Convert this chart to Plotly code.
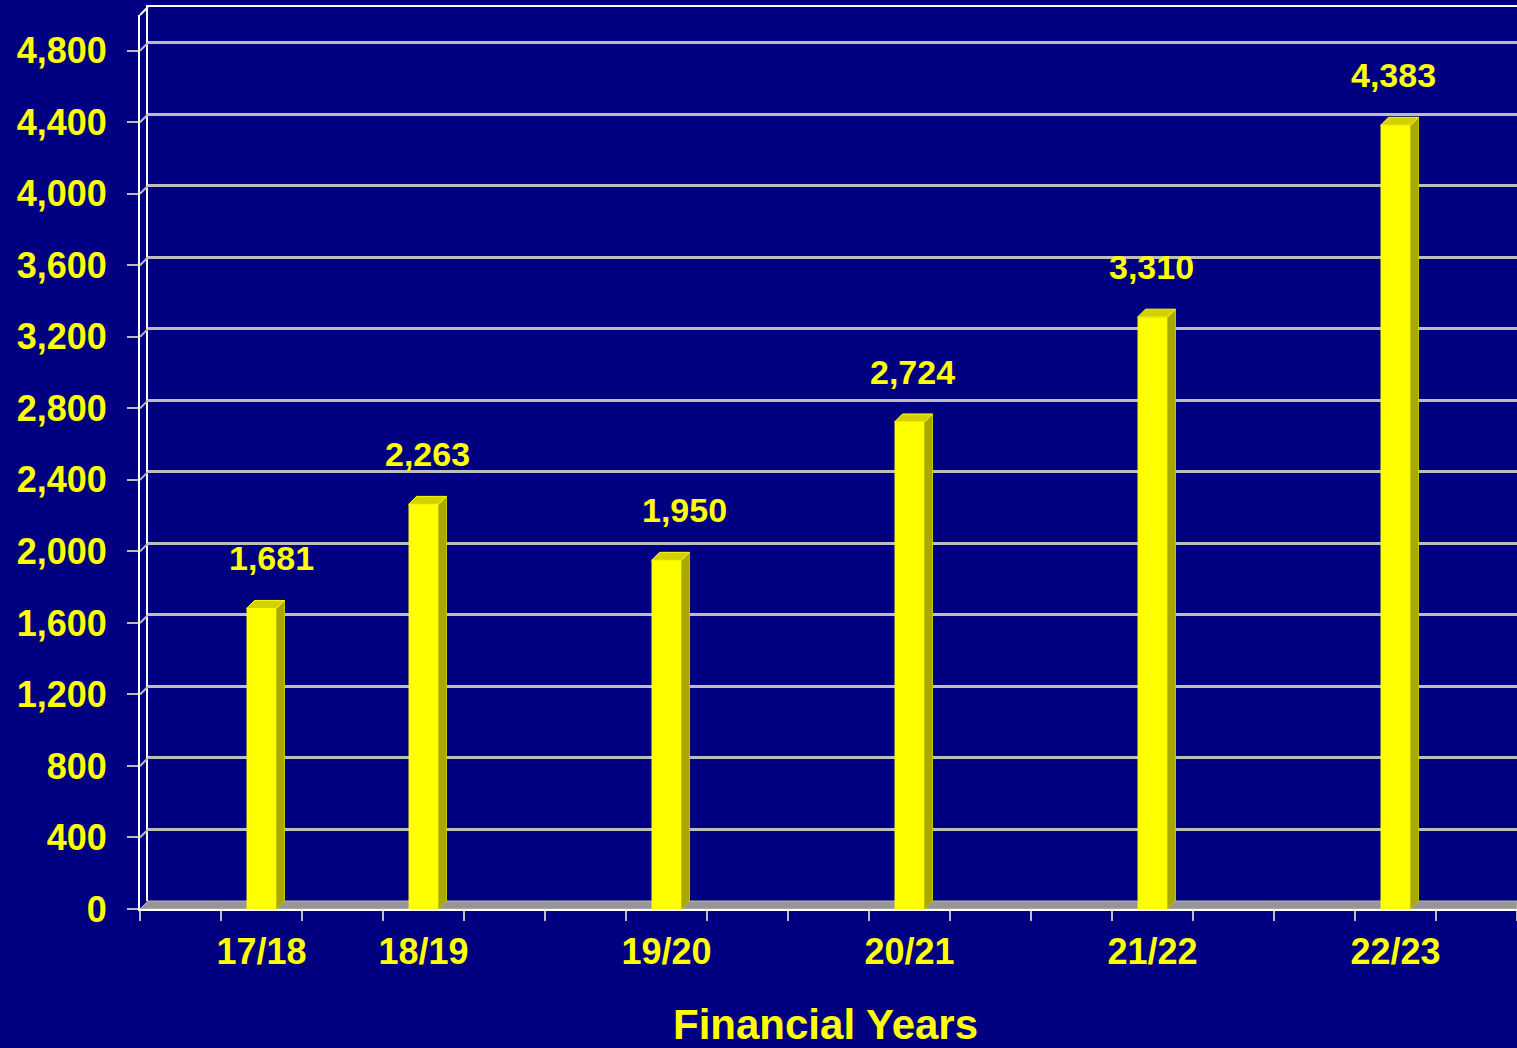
import plotly.graph_objects as go

# ---- data ----
categories = ["17/18", "18/19", "19/20", "20/21", "21/22", "22/23"]
values = [1681, 2263, 1950, 2724, 3310, 4383]
y_ticks = [0, 400, 800, 1200, 1600, 2000, 2400, 2800, 3200, 3600, 4000, 4400, 4800]
x_title = "Financial Years"

# ---- layout / style constants ----
W, H = 1517, 1048
SLOTS = 17                      # category slots along the floor
slot_pos = [1.5, 3.5, 6.5, 9.5, 12.5, 15.5]   # slot centres of the categories
label_nudge_px = [10, 4, 18, 3, -1, -2]
YMAX = 5000
front_left, back_left = 140, 148
front_zero, back_zero = 909, 901
plot_h = 894                    # px for YMAX
DEPTH = 8                       # px
BAR_W = 0.37

NAVY = "#000080"
YEL = "#FFFF00"
GRID = "#BDBDBD"
FONT = "Liberation Sans, Arial, sans-serif"

px_per_slot = (W - front_left) / SLOTS
px_per_unit = plot_h / YMAX
dx = DEPTH / px_per_slot
dy = DEPTH / px_per_unit

fig = go.Figure()

# empty trace so that the back-wall subplot (gridlines) is drawn
fig.add_trace(go.Scatter(x=[None], y=[None], xaxis="x", yaxis="y",
                         hoverinfo="skip", showlegend=False))

# front face of bars
fig.add_trace(go.Bar(
    x=slot_pos, y=values, width=BAR_W,
    marker=dict(color=YEL, line=dict(width=0)),
    xaxis="x2", yaxis="y2", hoverinfo="skip", showlegend=False,
))

# side & top faces (3D look), computed from the values
side_x, side_y, top_x, top_y = [], [], [], []
for c, v in zip(slot_pos, values):
    xl, xr = c - BAR_W / 2, c + BAR_W / 2
    side_x += [xr, xr + dx, xr + dx, xr, xr, None]
    side_y += [0, dy, v + dy, v, 0, None]
    top_x += [xl, xl + dx, xr + dx, xr, xl, None]
    top_y += [v, v + dy, v + dy, v, v, None]

fig.add_trace(go.Scatter(
    x=side_x, y=side_y, mode="lines", fill="toself",
    fillcolor="#A8A800", line=dict(color="#C4C400", width=1),
    xaxis="x2", yaxis="y2", hoverinfo="skip", showlegend=False,
))
fig.add_trace(go.Scatter(
    x=top_x, y=top_y, mode="lines", fill="toself",
    fillcolor="#D2D200", line=dict(color=YEL, width=1),
    xaxis="x2", yaxis="y2", hoverinfo="skip", showlegend=False,
))

# data labels
annotations = []
for c, v, n in zip(slot_pos, values, label_nudge_px):
    annotations.append(dict(
        x=c, y=v, xref="x2", yref="y2", text=f"{v:,}", showarrow=False,
        xshift=n, yshift=50, yanchor="middle", xanchor="center",
        font=dict(family=FONT, size=34, color=YEL, weight="bold"),
    ))
annotations.append(dict(
    x=825 / W, y=(H - 1024) / H, xref="paper", yref="paper", text=x_title,
    showarrow=False, xanchor="center", yanchor="middle",
    font=dict(family=FONT, size=42, color=YEL, weight="bold"),
))

def fy(v):   # front-plane paper y
    return ((H - front_zero) + v * px_per_unit) / H

def by(v):   # back-wall paper y
    return ((H - back_zero) + v * px_per_unit) / H

shapes = []
# floor (grey band)
shapes.append(dict(
    type="path", xref="x2", yref="y2", layer="between",
    path=f"M 0 0 L {dx} {dy} L {SLOTS} {dy} L {SLOTS} 0 Z",
    fillcolor="#969696", line=dict(color="#B8B8B8", width=1),
))
# gridline connectors on the left side wall
for v in y_ticks[1:]:
    shapes.append(dict(
        type="line", xref="paper", yref="paper",
        x0=front_left / W, y0=fy(v), x1=back_left / W, y1=by(v),
        line=dict(color=GRID, width=2),
    ))
# top diagonal of the side wall
shapes.append(dict(
    type="line", xref="paper", yref="paper",
    x0=front_left / W, y0=fy(YMAX), x1=back_left / W, y1=by(YMAX),
    line=dict(color="white", width=2),
))

tickfont = dict(family=FONT, size=36, color=YEL, weight="bold")

fig.update_layout(
    width=W, height=H, autosize=False,
    margin=dict(l=0, r=0, t=0, b=0, pad=0, autoexpand=False),
    paper_bgcolor=NAVY, plot_bgcolor="rgba(0,0,0,0)",
    showlegend=False,
    shapes=shapes, annotations=annotations,
    # back wall (gridlines)
    xaxis=dict(domain=[back_left / W, 1], range=[0, 1], anchor="y", side="top",
               showline=True, linecolor="white", linewidth=2, automargin=False,
               showgrid=False, zeroline=False, showticklabels=False, ticks=""),
    yaxis=dict(domain=[by(0), by(YMAX)], range=[0, YMAX], anchor="x",
               tickvals=y_ticks[1:], showgrid=True, gridcolor=GRID, gridwidth=3,
               showline=True, linecolor="white", linewidth=2, automargin=False,
               zeroline=False, showticklabels=False, ticks=""),
    # front plane (bars, ticks, labels)
    xaxis2=dict(domain=[front_left / W, 1], range=[0, SLOTS], anchor="y2",
                tickvals=slot_pos, ticktext=categories, ticks="",
                tickfont=tickfont, ticklabelstandoff=10, automargin=False,
                minor=dict(tickmode="linear", tick0=0, dtick=1, ticks="outside",
                           ticklen=10, tickwidth=2, tickcolor=GRID, showgrid=False),
                showline=True, linecolor="white", linewidth=2,
                showgrid=False, zeroline=False),
    yaxis2=dict(domain=[fy(0), fy(YMAX)], range=[0, YMAX], anchor="x2",
                tickvals=y_ticks, tickformat=",", ticks="outside", ticklen=11,
                tickwidth=2, tickcolor=GRID, tickfont=tickfont,
                ticklabelstandoff=13, automargin=False,
                showline=True, linecolor="white", linewidth=2,
                showgrid=False, zeroline=False),
)

fig.write_html("out.html", config={"displayModeBar": False},
               post_script="document.body.style.margin='0';"
                           "document.body.style.background='#000080';")
